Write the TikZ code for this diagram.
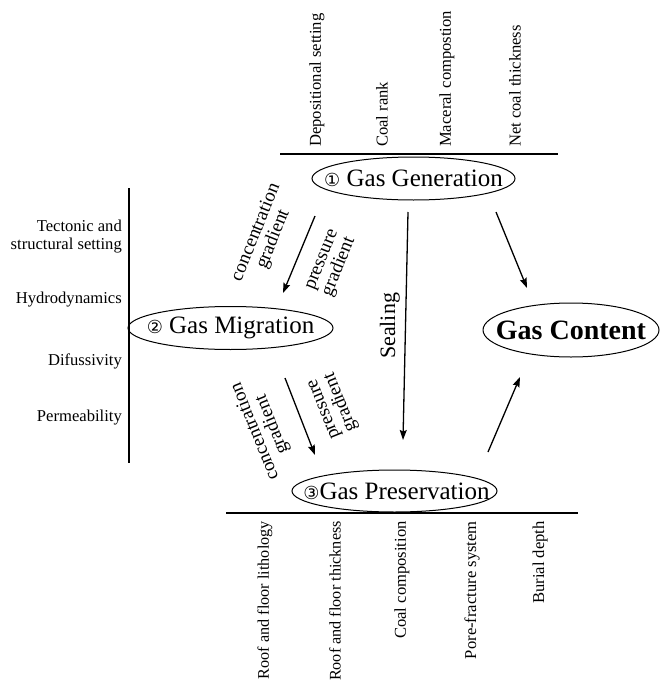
\documentclass[tikz,border=0pt]{standalone}
\usepackage{fontspec}
\setmainfont{Liberation Serif}
\newfontfamily\circfont{DejaVu Sans}
\usetikzlibrary{arrows.meta,shapes.geometric}
\newcommand{\circnum}[1]{{\circfont\fontsize{18}{18}\selectfont #1}}

\begin{document}
\begin{tikzpicture}[x=1pt,y=-1pt,
  factor/.style={inner sep=0pt,font=\fontsize{16.6}{18}\selectfont},
  stage/.style={draw,ellipse,inner sep=0pt,line width=1pt,font=\fontsize{25}{25}\selectfont},
  flow/.style={-{Stealth[length=10pt,width=7pt,inset=1.5pt]},line width=1.3pt},
  grad/.style={align=center,inner sep=0pt,font=\fontsize{19}{18.5}\selectfont}]
\useasboundingbox (0,0) rectangle (661,685);

% stages
\node[stage,minimum width=203pt,minimum height=43pt] (gen) at (413.5,178.5) {\makebox[0pt]{\circnum{①} Gas Generation}};
\node[stage,minimum width=205pt,minimum height=43pt] (mig) at (230.5,328) {\makebox[0pt]{\circnum{②} Gas Migration}};
\node[stage,minimum width=205pt,minimum height=42pt] (pres) at (394.5,491) {\makebox[0pt]{\hspace{4pt}\circnum{③}Gas Preservation}};
\node[stage,minimum width=176pt,minimum height=54pt,font=\fontsize{28}{28}\selectfont\bfseries] (content) at (571,330) {\makebox[0pt]{Gas Content}};

% generation factors
\coordinate (topL) at (280,154);
\coordinate (topR) at (558,154);
\draw[line width=1.1pt] (topL) -- (topR);
\node[factor,rotate=90,anchor=west] (depo) at (317,147) {Depositional setting};
\node[factor,rotate=90,anchor=west] (rank) at (382,147) {Coal rank};
\node[factor,rotate=90,anchor=west] (maceral) at (447,147) {Maceral compostion};
\node[factor,rotate=90,anchor=west] (thick) at (515,147) {Net coal thickness};

% migration factors
\coordinate (leftT) at (129,188);
\coordinate (leftB) at (129,463);
\draw[line width=1.1pt] (leftT) -- (leftB);
\node[factor,anchor=east,align=right] (tect) at (122,237) {Tectonic and\\structural setting};
\node[factor,anchor=east] (hydro) at (122,300) {Hydrodynamics};
\node[factor,anchor=east] (diff) at (122,361) {Difussivity};
\node[factor,anchor=east] (perm) at (122,418) {Permeability};

% preservation factors
\coordinate (botL) at (226,513);
\coordinate (botR) at (578,513);
\draw[line width=1.1pt] (botL) -- (botR);
\node[factor,rotate=90,anchor=east,font=\fontsize{16.2}{18}\selectfont] (litho) at (265,521) {Roof and floor lithology};
\node[factor,rotate=90,anchor=east,font=\fontsize{16.2}{18}\selectfont] (rfthick) at (335,521) {Roof and floor thickness};
\node[factor,rotate=90,anchor=east] (comp) at (402,521) {Coal composition};
\node[factor,rotate=90,anchor=east] (pore) at (472,521) {Pore-fracture system};
\node[factor,rotate=90,anchor=east] (depth) at (540,521) {Burial depth};

% arrows
\draw[flow] ([shift={(-98.5,37.5)}]gen.center) -- ([shift={(52.5,-35)}]mig.center);
\draw[flow] ([shift={(54.5,50)}]mig.center) -- ([shift={(-79.5,-36)}]pres.center);
\draw[flow] ([shift={(-5.5,33.5)}]gen.center) -- ([shift={(8.5,-51)}]pres.center)
  node[midway,rotate=90,anchor=south,inner sep=5pt,font=\fontsize{22}{22}\selectfont] {Sealing};
\draw[flow] ([shift={(82.5,33.5)}]gen.center) -- ([shift={(-44,-42)}]content.center);
\draw[flow] ([shift={(93.5,-39)}]pres.center) -- ([shift={(-51,47)}]content.center);

% gradient labels
\node[grad,rotate=68] (conc1) at (265,236) {concentration\\gradient};
\node[grad,rotate=68] (press1) at (332,264) {pressure\\gradient};
\node[grad,rotate=112] (conc2) at (264,428) {concentration\\gradient};
\node[grad,rotate=112] (press2) at (334,405) {pressure\\gradient};
\end{tikzpicture}
\end{document}
